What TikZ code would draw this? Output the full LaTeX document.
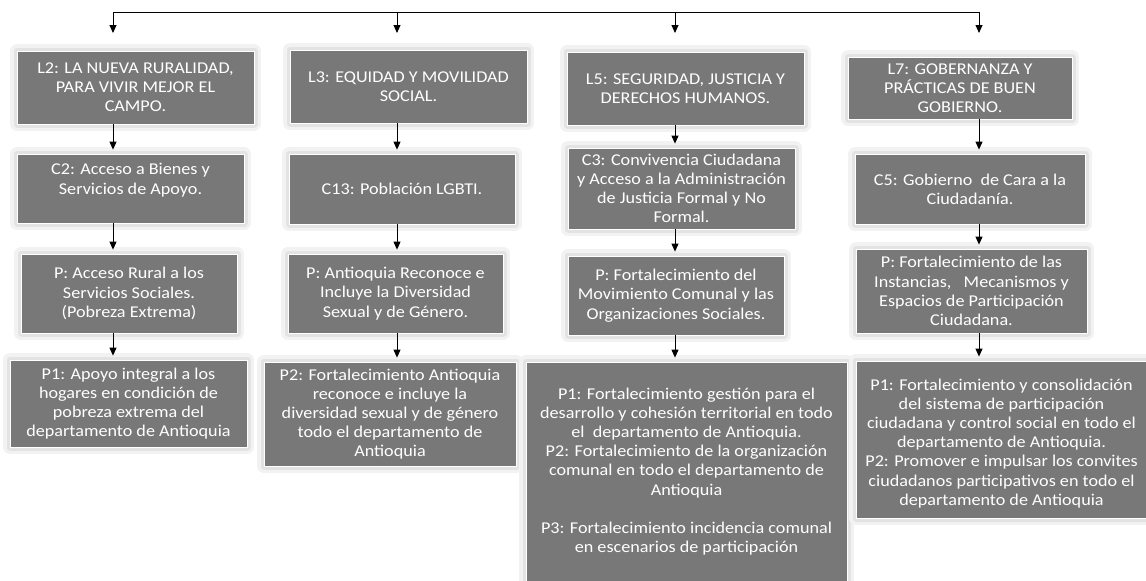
\documentclass[tikz,border=0pt]{standalone}
\usepackage{fontspec}
\setmainfont{Carlito}[FakeStretch=1.1]
\usetikzlibrary{arrows.meta}
\definecolor{boxGray}{RGB}{120,120,120}

\begin{document}
\begin{tikzpicture}
[x=1pt,y=-1pt,
  boxDecorate/.style={shape=rectangle,draw=white,line width=0.8pt,fill=boxGray,
    text=white,align=center,inner sep=0pt,font=\fontsize{16.5}{19.2}\selectfont,
    preaction={draw=black!5,line width=14pt,line join=round},
    preaction={draw=black!11,line width=7pt,line join=round}},%
  arrowDecorate/.style={-{Triangle[width=7pt,length=8pt]},line width=0.9pt,black,shorten >=4pt}]
\useasboundingbox (0,0) rectangle (1146,581);
%% boxes
\foreach \nodename/\x/\y/\w/\h/\content in {
  L2/135.5/87.5/237/73/{L2: LA NUEVA RURALIDAD,\\PARA VIVIR MEJOR EL\\CAMPO.},
  L3/408.5/86.5/237/73/{L3: EQUIDAD Y MOVILIDAD\\SOCIAL.},
  L5/685.5/88.5/237/73/{L5: SEGURIDAD, JUSTICIA Y\\DERECHOS HUMANOS.},
  L7/960/88/224/62/{L7: GOBERNANZA Y\\PRÁCTICAS DE BUEN\\GOBIERNO.},
  C2/130.5/188.5/227/69/{C2: Acceso a Bienes y\\Servicios de Apoyo.\\\mbox{}},
  C13/402/189/226/70/{C13: Población LGBTI.},
  C3/681.5/188.5/227/81/{C3: Convivencia Ciudadana\\y Acceso a la Administración\\de Justicia Formal y No\\Formal.},
  C5/970/189/230/70/{C5: Gobierno\ \ de Cara a la\\Ciudadanía.},
  P2/129/293.5/216/79/{P: Acceso Rural a los\\Servicios Sociales.\\(Pobreza Extrema)},
  P3/395.5/293.5/215/79/{P: Antioquia Reconoce e\\Incluye la Diversidad\\Sexual y de Género.},
  P5/676/295.5/216/79/{P: Fortalecimiento del\\Movimiento Comunal y las\\Organizaciones Sociales.},
  P7/971.5/291/231/84/{P: Fortalecimiento de las\\Instancias,\ \ \ Mecanismos y\\Espacios de Participación\\Ciudadana.},
  S2/128.5/403.5/237/87/{P1: Apoyo integral a los\\hogares en condición de\\pobreza extrema del\\departamento de Antioquia},
  S3/390/414/252/104/{P2: Fortalecimiento Antioquia\\reconoce e incluye la\\diversidad sexual y de género\\todo el departamento de\\Antioquia},
  S5/686.5/471.5/321/219/{P1: Fortalecimiento gestión para el\\desarrollo y cohesión territorial en todo\\el\ \ departamento de Antioquia.\\P2: Fortalecimiento de la organización\\comunal en todo el departamento de\\Antioquia\\[19.2pt]P3: Fortalecimiento incidencia comunal\\en escenarios de participación},
  S7/1001.5/439.5/291/157/{\mbox{}\\P1: Fortalecimiento y consolidación\\del sistema de participación\\ciudadana y control social en todo el\\departamento de Antioquia.\\P2: Promover e impulsar los convites\\ciudadanos participativos en todo el\\departamento de Antioquia}}
{
  \node (\nodename) at (\x,\y) [boxDecorate,minimum width=\w pt,minimum height=\h pt] {\content};
}
%% top bar and its drops
\foreach \i/\x in {1/113, 2/397, 3/675, 4/979}
{
  \coordinate (bar\i) at (\x,12);
  \coordinate (tip\i) at (\x,33);
  \draw[arrowDecorate,shorten >=0pt] (bar\i) -- (tip\i);
}
\draw[line width=0.9pt,black] (bar1) -- (bar4);
%% arrows down each column
\foreach \upper/\lower/\col in {
  L2/C2/1, C2/P2/1, P2/S2/1, L3/C13/2, C13/P3/2, P3/S3/2,
  L5/C3/3, C3/P5/3, P5/S5/3, L7/C5/4, C5/P7/4, P7/S7/4}
{
  \draw[arrowDecorate] (\upper.south -| bar\col) -- (\lower.north -| bar\col);
}
\end{tikzpicture}
\end{document}
